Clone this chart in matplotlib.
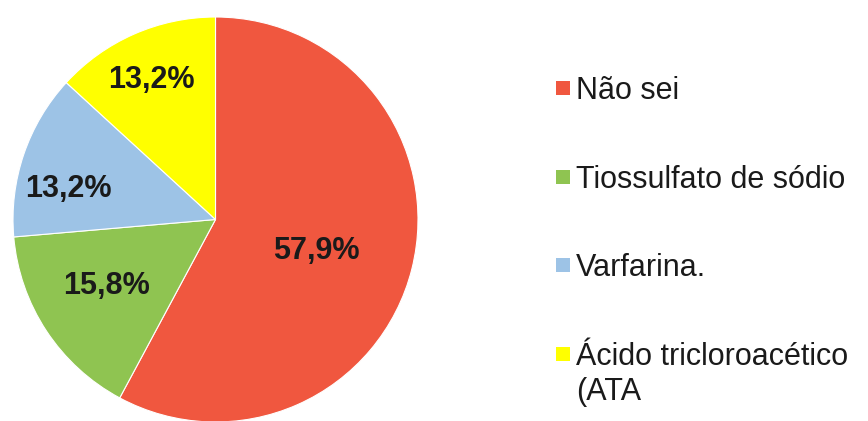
import numpy as np
import matplotlib
matplotlib.use("Agg")
import matplotlib.pyplot as plt
from matplotlib.patches import Rectangle

plt.rcParams['font.family'] = ['Liberation Sans', 'DejaVu Sans']

categories = ["Não sei", "Tiossulfato de sódio", "Varfarina.", "Ácido tricloroacético\n(ATA"]
values = [57.9, 15.8, 13.2, 13.2]
colors = ["#F0573F", "#8FC451", "#9DC3E6", "#FFFF00"]

# label placement (radius as fraction of pie radius, angular nudge in degrees)
label_radius = [0.52, 0.63, 0.74, 0.76]
label_nudge = [-3.5, -2.0, 7.0, 1.0]

W, H = 868, 421
fig = plt.figure(figsize=(W / 100, H / 100), dpi=100)
fig.patch.set_facecolor("white")

cx, cy, r = 215.5, 219.5, 202.5
ax = fig.add_axes([(cx - r) / W, (H - cy - r) / H, 2 * r / W, 2 * r / H])
wedges, _ = ax.pie(values, colors=colors, startangle=90, counterclock=False,
                   radius=1.0,
                   wedgeprops=dict(edgecolor="white", linewidth=0.8))
ax.set_xlim(-1, 1)
ax.set_ylim(-1, 1)
ax.set_aspect("auto")
ax.axis("off")

for w, v, rad, nudge in zip(wedges, values, label_radius, label_nudge):
    ang = np.deg2rad((w.theta1 + w.theta2) / 2 + nudge)
    ax.text(rad * np.cos(ang), rad * np.sin(ang), f"{v:.1f}%".replace(".", ","),
            ha="center", va="center", fontsize=22, fontweight="bold",
            color="#1a1a1a")

# legend drawn row by row
text_x = 576
marker_x0, marker_size = 556, 14
baseline0, row_step, line_step = 99, 88.7, 35
for i, (lab, col) in enumerate(zip(categories, colors)):
    base = baseline0 + i * row_step
    for j, line in enumerate(lab.split("\n")):
        fig.text(text_x / W, 1 - (base + j * line_step) / H, line,
                 ha="left", va="baseline", fontsize=22, color="#1a1a1a")
    mc = base - 11
    fig.patches.append(Rectangle((marker_x0 / W, 1 - (mc + marker_size / 2) / H),
                                 marker_size / W, marker_size / H,
                                 transform=fig.transFigure, facecolor=col,
                                 edgecolor="none"))

fig.savefig("out.png", dpi=100)
